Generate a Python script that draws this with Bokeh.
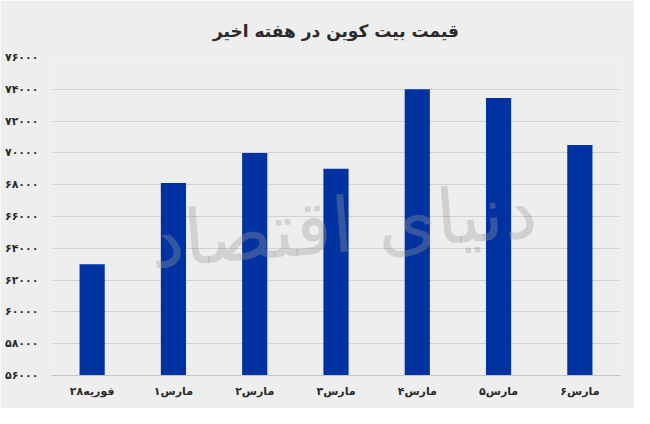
from bokeh.plotting import figure
from bokeh.models import Range1d, FixedTicker, Label, ColumnDataSource
from bokeh.embed import file_html
from bokeh.resources import INLINE

# ---- data ----
categories = ["۲۸فوریه", "۱مارس", "۲مارس", "۳مارس", "۴مارس", "۵مارس", "۶مارس"]
prices = [63000, 68100, 70000, 69000, 74000, 73450, 70500]
y_min, y_max = 56000, 76000
y_ticks = [56000, 58000, 60000, 62000, 64000, 66000, 68000, 70000, 72000, 74000, 76000]
y_tick_labels = ["۵۶۰۰۰", "۵۸۰۰۰", "۶۰۰۰۰", "۶۲۰۰۰", "۶۴۰۰۰", "۶۶۰۰۰", "۶۸۰۰۰",
                 "۷۰۰۰۰", "۷۲۰۰۰", "۷۴۰۰۰", "۷۶۰۰۰"]
title_text = "قیمت بیت کوین در هفته اخیر"
watermark = "دنیای اقتصاد"

BG = "#eeeeee"
FONT = "DejaVu Sans"
W, H = 634, 408
TOP, BOTTOM, LEFT, RIGHT = 57, 33, 51, 14

p = figure(width=W, height=H, x_range=categories, y_range=Range1d(y_min, y_max),
           output_backend="svg", toolbar_location=None,
           background_fill_color=BG, border_fill_color=BG,
           min_border_left=LEFT, min_border_right=RIGHT,
           min_border_top=TOP, min_border_bottom=BOTTOM)

p.title.text = title_text
p.title.align = "center"
p.title.vertical_align = "top"
p.title.text_font = FONT
p.title.text_font_size = "17px"
p.title.text_font_style = "bold"
p.title.text_color = "#2a2a2a"
p.title.standoff = 30

src = ColumnDataSource(dict(x=categories, top=prices))
p.vbar(x="x", top="top", bottom=y_min, width=0.31, source=src,
       fill_color="#0033a1", line_color=None)

p.yaxis.ticker = FixedTicker(ticks=y_ticks)
p.yaxis.major_label_overrides = {t: l for t, l in zip(y_ticks, y_tick_labels)}
for ax in (p.xaxis, p.yaxis):
    ax.axis_line_color = None
    ax.major_tick_line_color = None
    ax.minor_tick_line_color = None
    ax.major_tick_out = 0
    ax.major_tick_in = 0
    ax.minor_tick_out = 0
    ax.major_label_text_font = FONT
    ax.major_label_text_font_style = "bold"
    ax.major_label_text_color = "#2a2a2a"
p.yaxis.major_label_text_font_size = "11px"
p.yaxis.major_label_standoff = 13
p.xaxis.major_label_text_font_size = "11px"
p.xaxis.major_label_standoff = 9
p.xaxis.axis_line_color = "#c4c4c4"

p.xgrid.grid_line_color = None
p.ygrid.grid_line_color = "#d2d2d2"
p.ygrid.grid_line_width = 1
p.outline_line_color = None

wm = Label(x=292, y=150, x_units="screen", y_units="screen", text=watermark,
           text_font=FONT, text_font_size="76px", text_color="#9a9a9a", text_alpha=0.35,
           text_align="center", text_baseline="middle", angle=0.08)
p.add_layout(wm)

open("out.html", "w").write(file_html(p, INLINE))
